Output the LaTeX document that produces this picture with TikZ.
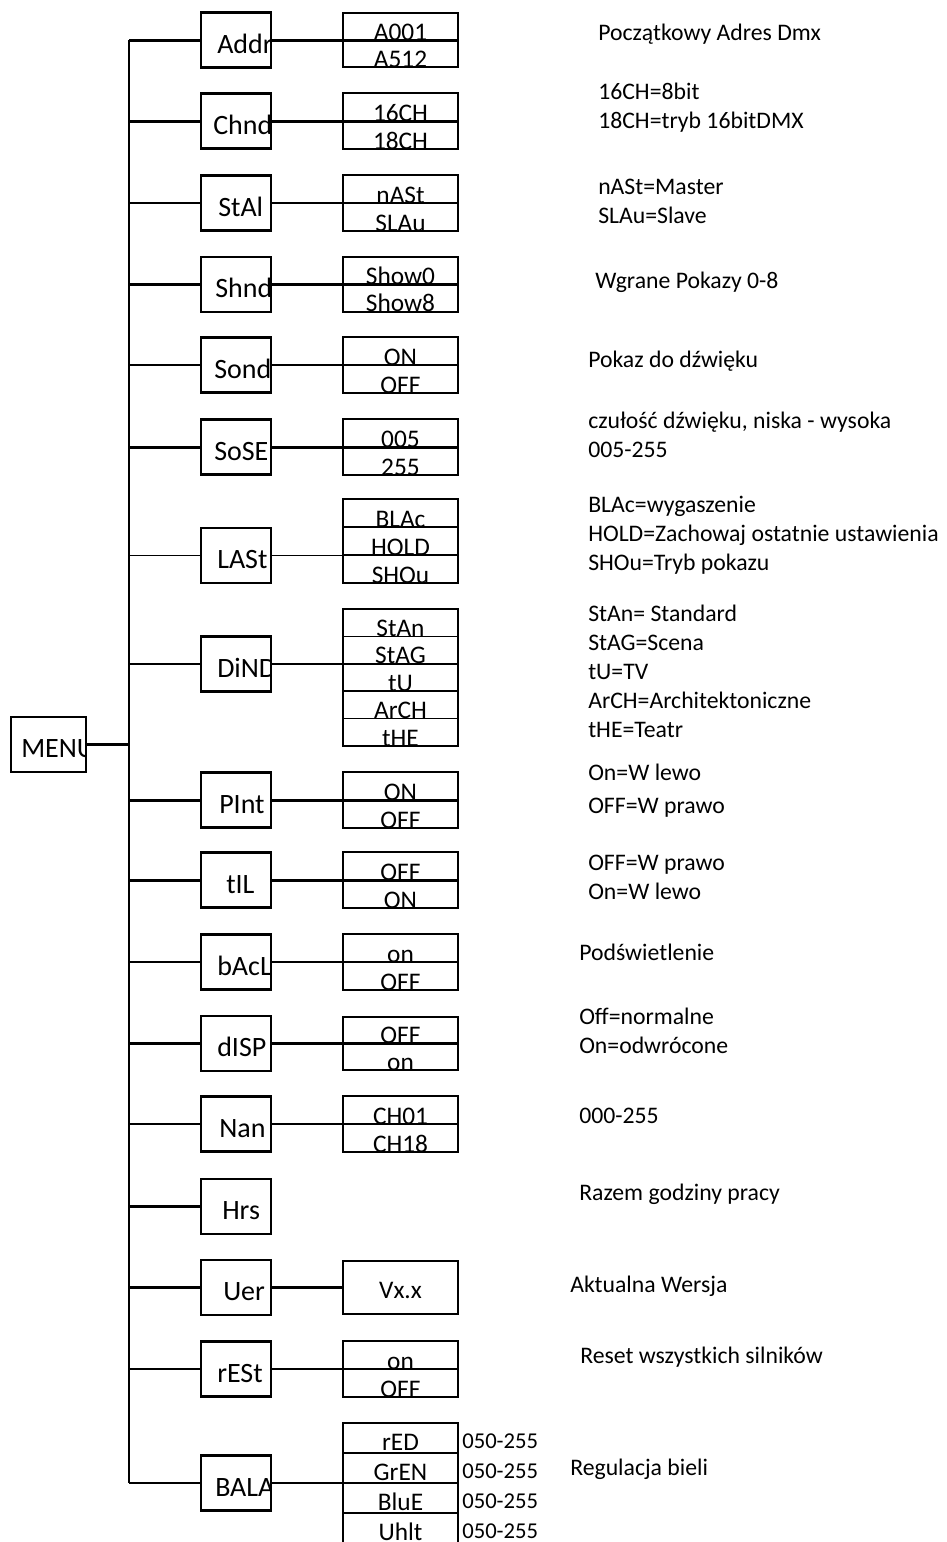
\documentclass[tikz,border=0pt]{standalone}
\usepackage{fontspec}
\setmainfont{Carlito}
\usetikzlibrary{positioning}
\tikzset{
  % menu boxes, their label is set from the left and cut off by the frame
  box_L/.style = {draw=black, line width=1.9pt, minimum width=52.5pt, minimum height=41.25pt,
    inner sep=0pt, outer sep=0pt},
  txt_L/.style = {anchor=base west, inner sep=0pt, font=\fontsize{21}{24}\selectfont},
  % value cells: text sits on the lower line
  cell_R/.style = {draw=black, line width=1.3pt, minimum width=86.25pt, text height=#1, text depth=0pt,
    inner xsep=0pt, inner ysep=0pt, outer sep=0pt, font=\fontsize{19}{21}\selectfont},
  range_R/.style = {anchor=base west, inner sep=0pt, font=\fontsize{17}{19}\selectfont},
  % descriptions: placed at the baseline of their last line
  desc_R/.style = {anchor=base west, align=left, inner sep=0pt, font=\fontsize{17.8}{21.75}\selectfont},
  link_T/.style = {line width=2.25pt},
  link_t/.style = {line width=1.1pt}
}

\begin{document}
\begin{tikzpicture}[x=0.75pt, y=-0.75pt]
  \useasboundingbox (0,0) rectangle (946,1542);
  % Root MENU node:
  \node [box_L, minimum width=56.25pt, line width=1.5pt] (menu) at (48.5,744.5) {};
  \coordinate (trunk) at (129,744.5);

  % Addr:
  \node [box_L] (addr) at (236,40) {};
  \node [cell_R=20.25pt, anchor=north] (addr1) at (400.5,13) {A001};
  \node [cell_R=20.25pt, below=0pt of addr1] (addr2) {A512};
  \node [desc_R] (addr-d) at (598,40) {Początkowy Adres Dmx};
  % Chnd:
  \node [box_L] (chnd) at (236,121) {};
  \node [cell_R=21pt, anchor=north] (chnd1) at (400.5,93) {16CH};
  \node [cell_R=21pt, below=0pt of chnd1] (chnd2) {18CH};
  \node [desc_R] (chnd-d) at (598,128) {16CH=8bit\\18CH=tryb 16bitDMX};
  % StAl:
  \node [box_L] (stal) at (236,203) {};
  \node [cell_R=21pt, anchor=north] (stal1) at (400.5,175) {nASt};
  \node [cell_R=21pt, below=0pt of stal1] (stal2) {SLAu};
  \node [desc_R] (stal-d) at (598,223) {nASt=Master\\SLAu=Slave};
  % Shnd:
  \node [box_L] (shnd) at (236,284.5) {};
  \node [cell_R=20.6pt, anchor=north] (shnd1) at (400.5,257) {Show0};
  \node [cell_R=20.6pt, below=0pt of shnd1] (shnd2) {Show8};
  \node [desc_R] (shnd-d) at (595,288) {Wgrane Pokazy 0-8};
  % Sond:
  \node [box_L] (sond) at (236,365) {};
  \node [cell_R=21pt, anchor=north] (sond1) at (400.5,337) {ON};
  \node [cell_R=21pt, below=0pt of sond1] (sond2) {OFF};
  \node [desc_R] (sond-d) at (588,367) {Pokaz do dźwięku};
  % SoSE:
  \node [box_L] (sose) at (236,447) {};
  \node [cell_R=21pt, anchor=north] (sose1) at (400.5,419) {005};
  \node [cell_R=21pt, below=0pt of sose1] (sose2) {255};
  \node [desc_R] (sose-d) at (588,457) {czułość dźwięku, niska - wysoka\\005-255};
  % LASt:
  \node [box_L] (last) at (236,555.5) {};
  \node [cell_R=21pt, anchor=north] (last1) at (400.5,499) {BLAc};
  \node [cell_R=21pt, below=0pt of last1] (last2) {HOLD};
  \node [cell_R=21pt, below=0pt of last2] (last3) {SHOu};
  \node [desc_R] (last-d) at (588,570) {BLAc=wygaszenie\\HOLD=Zachowaj ostatnie ustawienia\\SHOu=Tryb pokazu};
  % DiND:
  \node [box_L] (dind) at (236,664) {};
  \node [cell_R=20.55pt, anchor=north] (dind1) at (400.5,609) {StAn};
  \node [cell_R=20.55pt, below=0pt of dind1] (dind2) {StAG};
  \node [cell_R=20.55pt, below=0pt of dind2] (dind3) {tU};
  \node [cell_R=20.55pt, below=0pt of dind3] (dind4) {ArCH};
  \node [cell_R=20.55pt, below=0pt of dind4] (dind5) {tHE};
  \node [desc_R] (dind-d) at (588,737) {StAn= Standard\\StAG=Scena\\tU=TV\\ArCH=Architektoniczne\\tHE=Teatr};
  % PInt:
  \node [box_L] (pint) at (236,800) {};
  \node [cell_R=21pt, anchor=north] (pint1) at (400.5,772) {ON};
  \node [cell_R=21pt, below=0pt of pint1] (pint2) {OFF};
  \node [desc_R] (pint-d) at (588,813) {On=W lewo\\[3pt]OFF=W prawo};
  % tIL:
  \node [box_L] (til) at (236,880) {};
  \node [cell_R=21pt, anchor=north] (til1) at (400.5,852) {OFF};
  \node [cell_R=21pt, below=0pt of til1] (til2) {ON};
  \node [desc_R] (til-d) at (588,899) {OFF=W prawo\\On=W lewo};
  % bAcL:
  \node [box_L] (bacl) at (236,962) {};
  \node [cell_R=21pt, anchor=north] (bacl1) at (400.5,934) {on};
  \node [cell_R=21pt, below=0pt of bacl1] (bacl2) {OFF};
  \node [desc_R] (bacl-d) at (579,960) {Podświetlenie};
  % dISP:
  \node [box_L] (disp) at (236,1043.5) {};
  \node [cell_R=19.9pt, anchor=north] (disp1) at (400.5,1017) {OFF};
  \node [cell_R=19.9pt, below=0pt of disp1] (disp2) {on};
  \node [desc_R] (disp-d) at (579,1053) {Off=normalne\\On=odwrócone};
  % Nan:
  \node [box_L] (nan) at (236,1124) {};
  \node [cell_R=21pt, anchor=north] (nan1) at (400.5,1096) {CH01};
  \node [cell_R=21pt, below=0pt of nan1] (nan2) {CH18};
  \node [desc_R] (nan-d) at (579,1123) {000-255};
  % Hrs:
  \node [box_L] (hrs) at (236,1206.5) {};
  \node [desc_R] (hrs-d) at (579,1200) {Razem godziny pracy};
  % Uer:
  \node [box_L] (uer) at (236,1287.5) {};
  \node [cell_R=27.75pt, text depth=12pt, anchor=north] (uer1) at (400.5,1261) {Vx.x};
  \node [desc_R] (uer-d) at (570,1292) {Aktualna Wersja};
  % rESt:
  \node [box_L] (rest) at (236,1369) {};
  \node [cell_R=21pt, anchor=north] (rest1) at (400.5,1341) {on};
  \node [cell_R=21pt, below=0pt of rest1] (rest2) {OFF};
  \node [desc_R] (rest-d) at (580,1363) {Reset wszystkich silników};
  % BALA:
  \node [box_L] (bala) at (236,1483) {};
  \node [cell_R=20.25pt, text depth=2.25pt, anchor=north] (bala1) at (400.5,1423) {rED};
  \node [cell_R=20.25pt, text depth=2.25pt, below=0pt of bala1] (bala2) {GrEN};
  \node [cell_R=20.25pt, text depth=2.25pt, below=0pt of bala2] (bala3) {BluE};
  \node [cell_R=20.25pt, text depth=2.25pt, below=0pt of bala3] (bala4) {Uhlt};
  \foreach \i in {1,...,4}
    \node [range_R] (bala\i-r) at ([shift={(4,-5)}]bala\i.south east) {050-255};
  \node [desc_R] (bala-d) at (570,1475) {Regulacja bieli};

  % Labels of the menu boxes, cut at the frame:
  \foreach \b/\t/\dx in {menu/MENU/10, addr/Addr/16, chnd/Chnd/12, stal/StAl/17, shnd/Shnd/14,
      sond/Sond/13, sose/SoSE/13, last/LASt/16, dind/DiND/16, pint/PInt/18, til/tIL/25,
      bacl/bAcL/16, disp/dISP/16, nan/Nan/18, hrs/Hrs/21, uer/Uer/22, rest/rESt/16, bala/BALA/14}
  {
    \begin{scope}
      \clip (\b.south west) rectangle (\b.north east);
      \node [txt_L] (\b-txt) at ([shift={(\dx,-14.5)}]\b.south west) {\t};
    \end{scope}
  }

  % Trunk and branches:
  \draw [link_T] (menu.east) -- (trunk);
  \draw [line width=1.5pt] (trunk |- addr) -- (trunk |- bala);
  \foreach \b in {addr,chnd,shnd,sose,pint,til,disp}
    \draw [link_T] (trunk |- \b) -- (\b.west) (\b.east) -- (\b.east -| \b1.east);
  \foreach \b in {stal,sond,last,dind,bacl,nan,rest,bala}
    \draw [link_t] (trunk |- \b) -- (\b.west) (\b.east) -- (\b.east -| \b1.east);
  \draw [link_T] (trunk |- hrs) -- (hrs.west);
  \draw [link_T] (trunk |- uer) -- (uer.west) (uer.east) -- (uer1.west |- uer);
\end{tikzpicture}
\end{document}
